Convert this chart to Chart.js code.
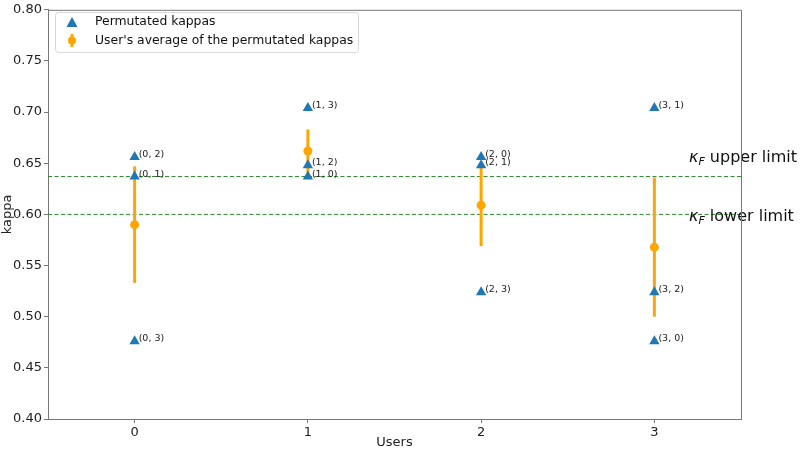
<!DOCTYPE html>
<html>
<head>
<meta charset="utf-8">
<script src="https://cdn.jsdelivr.net/npm/chart.js@4/dist/chart.umd.min.js"></script>
<style>
  html, body { margin: 0; padding: 0; background: #fff; }
  #wrap { width: 800px; height: 450px; position: relative; }
</style>
</head>
<body>
<div id="wrap"><canvas id="kappaChart"></canvas></div>
<script>
// data
const userTicks = [0, 1, 2, 3];
const kappaTicks = [0.40, 0.45, 0.50, 0.55, 0.60, 0.65, 0.70, 0.75, 0.80];

const pairLabels = ['(0, 1)', '(0, 2)', '(0, 3)', '(1, 0)', '(1, 2)', '(1, 3)',
                    '(2, 0)', '(2, 1)', '(2, 3)', '(3, 0)', '(3, 1)', '(3, 2)'];
const pairUser  = [0, 0, 0, 1, 1, 1, 2, 2, 2, 3, 3, 3];
const pairKappa = [0.637, 0.656, 0.476, 0.637, 0.648, 0.704,
                   0.656, 0.648, 0.524, 0.476, 0.704, 0.524];

const userMean  = [0.590, 0.662, 0.609, 0.568];
const userError = [0.057, 0.021, 0.040, 0.068];

const kappaFUpper = 0.637;
const kappaFLower = 0.600;

const FONT = "'DejaVu Sans', sans-serif";
const BLUE = '#1f77b4';
const ORANGE = '#ffa500';

const errorBars = {
    id: 'errorBars',
    beforeDatasetsDraw(chart) {
        const { ctx, scales: { x, y }, chartArea } = chart;
        ctx.save();
        // kappa_F limits
        ctx.strokeStyle = '#2a8a2a';
        ctx.lineWidth = 1;
        ctx.setLineDash([4, 2.5]);
        [kappaFUpper, kappaFLower].forEach(v => {
            const py = y.getPixelForValue(v);
            ctx.beginPath();
            ctx.moveTo(chartArea.left, py);
            ctx.lineTo(chartArea.right, py);
            ctx.stroke();
        });
        ctx.setLineDash([]);
        // error bars
        ctx.strokeStyle = ORANGE;
        ctx.lineWidth = 3;
        userTicks.forEach((u, i) => {
            const px = x.getPixelForValue(u);
            ctx.beginPath();
            ctx.moveTo(px, y.getPixelForValue(userMean[i] - userError[i]));
            ctx.lineTo(px, y.getPixelForValue(userMean[i] + userError[i]));
            ctx.stroke();
        });
        ctx.restore();
    },
    afterDatasetsDraw(chart) {
        const { ctx, scales: { x, y } } = chart;
        ctx.save();
        ctx.font = '9.5px ' + FONT;
        ctx.fillStyle = '#222';
        ctx.textBaseline = 'alphabetic';
        pairLabels.forEach((t, i) => {
            ctx.fillText(t, x.getPixelForValue(pairUser[i]) + 4, y.getPixelForValue(pairKappa[i]));
        });

        // limit labels
        const drawLimit = (txt, v) => {
            let px = x.getPixelForValue(3.2);
            const py = y.getPixelForValue(v);
            ctx.fillStyle = '#111';
            ctx.font = 'italic 16px ' + FONT;
            ctx.fillText('κ', px, py);
            px += ctx.measureText('κ').width;
            ctx.font = 'italic 11px ' + FONT;
            ctx.fillText('F', px, py + 3);
            px += ctx.measureText('F').width;
            ctx.font = '16px ' + FONT;
            ctx.fillText(' ' + txt, px, py);
        };
        drawLimit('upper limit', kappaFUpper + 0.014);
        drawLimit('lower limit', kappaFLower - 0.006);

        // legend
        const lx = 55, ly = 12, lw = 303, lh = 40;
        ctx.fillStyle = 'rgba(255,255,255,0.85)';
        ctx.strokeStyle = '#d8d8d8';
        ctx.lineWidth = 1;
        ctx.beginPath();
        ctx.roundRect(lx + 0.5, ly + 0.5, lw, lh, 3);
        ctx.fill();
        ctx.stroke();

        ctx.fillStyle = BLUE;
        ctx.beginPath();
        ctx.moveTo(72, 17);
        ctx.lineTo(77.5, 27);
        ctx.lineTo(66.5, 27);
        ctx.closePath();
        ctx.fill();

        ctx.strokeStyle = ORANGE;
        ctx.lineWidth = 3;
        ctx.beginPath();
        ctx.moveTo(72, 34);
        ctx.lineTo(72, 47);
        ctx.stroke();
        ctx.fillStyle = ORANGE;
        ctx.beginPath();
        ctx.arc(72, 40.5, 4, 0, Math.PI * 2);
        ctx.fill();

        ctx.fillStyle = '#111';
        ctx.font = '12.4px ' + FONT;
        ctx.textBaseline = 'middle';
        ctx.fillText('Permutated kappas', 95, 22);
        ctx.fillText("User's average of the permutated kappas", 95, 40.5);
        ctx.restore();
    }
};

new Chart(document.getElementById('kappaChart'), {
    type: 'scatter',
    data: {
        datasets: [{
            label: 'Permutated kappas',
            data: pairKappa.map((k, i) => ({ x: pairUser[i], y: k })),
            pointStyle: 'triangle',
            radius: 6,
            backgroundColor: BLUE,
            borderColor: BLUE,
            borderWidth: 0
        }, {
            label: "User's average of the permutated kappas",
            data: userMean.map((m, i) => ({ x: userTicks[i], y: m })),
            pointStyle: 'circle',
            radius: 4.5,
            backgroundColor: ORANGE,
            borderColor: ORANGE,
            borderWidth: 0
        }]
    },
    options: {
        responsive: true,
        maintainAspectRatio: false,
        animation: false,
        layout: { padding: { left: 0, right: 59, top: 6, bottom: 0 } },
        plugins: {
            legend: { display: false },
            tooltip: { enabled: false }
        },
        scales: {
            x: {
                type: 'linear',
                min: -0.5,
                max: 3.5,
                afterBuildTicks: axis => { axis.ticks = userTicks.map(v => ({ value: v })); },
                afterFit: axis => { axis.height = 31; },
                grid: { drawOnChartArea: false, drawTicks: true, tickLength: 4, color: '#777' },
                border: { color: '#777', width: 1 },
                ticks: { color: '#222', font: { family: FONT, size: 13 }, padding: 2 },
                title: { display: true, text: 'Users', color: '#222', font: { family: FONT, size: 13 }, padding: 0 }
            },
            y: {
                min: 0.40,
                max: 0.80,
                afterBuildTicks: axis => { axis.ticks = kappaTicks.map(v => ({ value: v })); },
                afterFit: axis => { axis.width = 48; },
                grid: { drawOnChartArea: false, drawTicks: true, tickLength: 4, color: '#777' },
                border: { color: '#777', width: 1 },
                ticks: { color: '#222', font: { family: FONT, size: 13 }, padding: 2,
                         callback: v => v.toFixed(2) },
                title: { display: true, text: 'kappa', color: '#222', font: { family: FONT, size: 13 }, padding: 0 }
            }
        }
    },
    plugins: [errorBars, {
        id: 'rightBorder',
        afterDraw(chart) {
            const { ctx, chartArea } = chart;
            ctx.save();
            ctx.strokeStyle = '#777';
            ctx.lineWidth = 1;
            ctx.beginPath();
            ctx.moveTo(chartArea.left, chartArea.top + 0.5);
            ctx.lineTo(chartArea.right + 0.5, chartArea.top + 0.5);
            ctx.lineTo(chartArea.right + 0.5, chartArea.bottom);
            ctx.stroke();
            ctx.restore();
        }
    }]
});
</script>
</body>
</html>
